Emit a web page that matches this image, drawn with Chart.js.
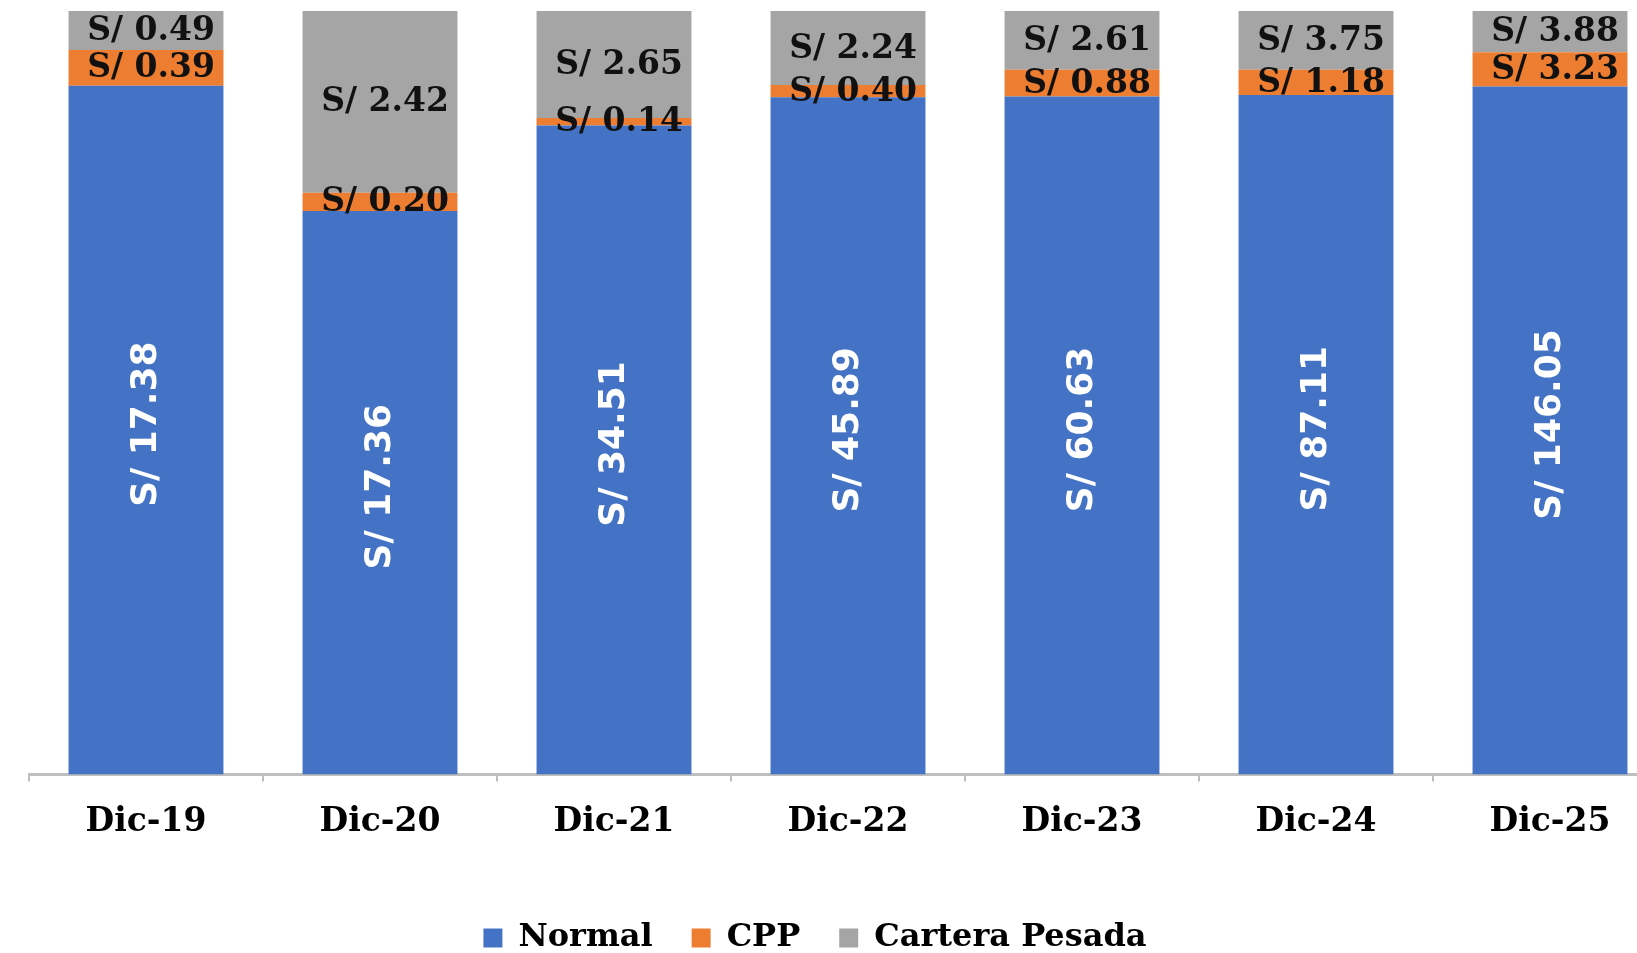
<!DOCTYPE html>
<html>
<head>
<meta charset="utf-8">
<script src="https://cdn.jsdelivr.net/npm/chart.js@4.4.1/dist/chart.umd.min.js"></script>
<style>
  html, body { margin: 0; padding: 0; background: #ffffff; overflow: hidden; }
  #wrap { width: 1680px; height: 953px; position: relative; }
</style>
</head>
<body>
<div id="wrap"><canvas id="c"></canvas></div>
<script>
// Categories
const categories = ['Dic-19', 'Dic-20', 'Dic-21', 'Dic-22', 'Dic-23', 'Dic-24', 'Dic-25'];

// Amounts shown in the labels (S/)
const normalAmounts  = [17.38, 17.36, 34.51, 45.89, 60.63, 87.11, 146.05];
const cppAmounts     = [0.39, 0.20, 0.14, 0.40, 0.88, 1.18, 3.23];
const pesadaAmounts  = [0.49, 2.42, 2.65, 2.24, 2.61, 3.75, 3.88];

// Bar segment shares (%) (100% stacked bars)
const normalShare = [90.2, 73.8, 85.0, 88.7, 88.8, 89.0, 90.1];
const cppShare    = [4.7, 2.4, 1.0, 1.6, 3.5, 3.3, 4.5];
const pesadaShare = [5.1, 23.8, 14.0, 9.7, 7.7, 7.7, 5.4];

const seriesNames = ['Normal', 'CPP', 'Cartera Pesada'];
const amountSets = [normalAmounts, cppAmounts, pesadaAmounts];

const serif = '"DejaVu Serif", "Liberation Serif", serif';
const sans = '"DejaVu Sans", "Liberation Sans", sans-serif';

const segLabels = {
  id: 'segLabels',
  afterDatasetsDraw(chart) {
    const ctx = chart.ctx;
    chart.data.datasets.forEach((ds, di) => {
      const meta = chart.getDatasetMeta(di);
      if (meta.hidden) return;
      meta.data.forEach((bar, i) => {
        const p = bar.getProps(['x', 'y', 'base'], true);
        const cy = (p.y + p.base) / 2;
        const text = 'S/ ' + amountSets[di][i].toFixed(2);
        ctx.save();
        ctx.textAlign = 'center';
        ctx.textBaseline = 'middle';
        if (di === 0) {
          ctx.translate(p.x + 1, cy - 6);
          ctx.rotate(-Math.PI / 2);
          ctx.font = 'bold 36px ' + sans;
          ctx.fillStyle = '#ffffff';
          ctx.fillText(text, 0, 0);
        } else {
          ctx.font = 'bold 33px ' + serif;
          ctx.fillStyle = '#111111';
          ctx.fillText(text, p.x + 5, cy + 1);
        }
        ctx.restore();
      });
    });
  }
};

const legendMover = {
  id: 'legendMover',
  afterUpdate(chart) {
    const lg = chart.legend;
    if (!lg) return;
    const dx = 815 - (lg.left + lg.right) / 2;
    lg.left += dx; lg.right += dx;
    const h = lg.bottom - lg.top;
    const targetTop = 938 - 39 - 16;
    lg.top = targetTop; lg.bottom = targetTop + h;
    if (lg.adjustHitBoxes) lg.adjustHitBoxes();
  }
};

new Chart(document.getElementById('c'), {
  type: 'bar',
  data: {
    labels: categories,
    datasets: [
      { label: seriesNames[0], data: normalShare, backgroundColor: '#4472C4' },
      { label: seriesNames[1], data: cppShare, backgroundColor: '#ED7D31' },
      { label: seriesNames[2], data: pesadaShare, backgroundColor: '#A5A5A5' }
    ]
  },
  options: {
    responsive: true,
    maintainAspectRatio: false,
    animation: false,
    datasets: { bar: { barPercentage: 0.662, categoryPercentage: 1.0, borderWidth: 0 } },
    layout: { padding: { left: 29, right: 13, top: 11, bottom: 9 } },
    scales: {
      x: {
        stacked: true,
        offset: true,
        grid: { offset: true, display: true, drawOnChartArea: false, drawTicks: true, tickLength: 7, color: '#bfbfbf', lineWidth: 2 },
        border: { display: true, color: '#bfbfbf', width: 3 },
        ticks: { padding: 21, color: '#000000', autoSkip: false, maxRotation: 0, font: { family: serif, size: 33, weight: 'bold' } }
      },
      y: { stacked: true, min: 0, max: 100, display: false }
    },
    plugins: {
      tooltip: { enabled: false },
      legend: {
        position: 'bottom',
        labels: { boxWidth: 19, boxHeight: 19, padding: 39, color: '#000000', font: { family: serif, size: 32, weight: 'bold' } }
      }
    }
  },
  plugins: [segLabels, legendMover]
});
</script>
</body>
</html>
